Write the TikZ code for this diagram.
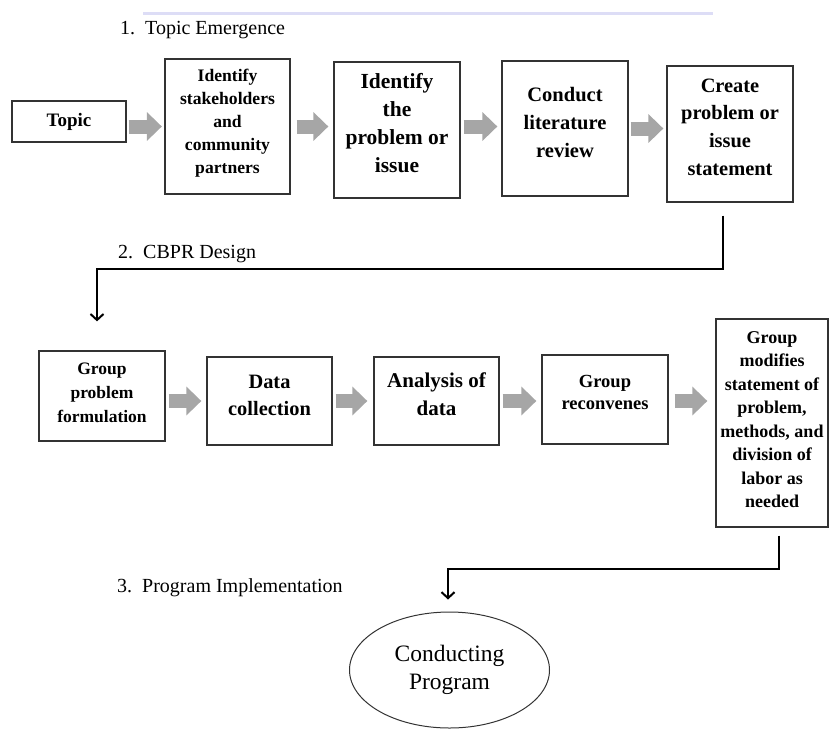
\documentclass[tikz,border=0pt]{standalone}
\usepackage{fontspec}
\setmainfont{Liberation Serif}
\usetikzlibrary{arrows.meta,shapes.geometric}

\definecolor{rulelav}{RGB}{221,221,246}
\definecolor{flowgray}{RGB}{166,166,166}

\tikzset{
  stepbox/.style={draw=black!80, line width=1.3pt, rectangle, inner sep=0pt},
  steptext/.style={align=center, inner sep=0pt},
  flow/.style={draw=flowgray, line width=14pt, -{Triangle[length=15pt,width=28pt]}, shorten <=3pt, shorten >=4pt},
  link/.style={line width=2pt, -{Straight Barb[length=6pt,width=13pt]}},
  phase/.style={anchor=base west, inner sep=0pt, font=\fontsize{20pt}{24pt}\selectfont},
}

\begin{document}
\begin{tikzpicture}[x=1pt, y=-1pt]
\useasboundingbox (0,0) rectangle (829,729);
\draw[rulelav, line width=3pt] (143,13.5) -- (713,13.5);

% 1. topic emergence
\node[phase] (p1) at (120,34) {1.\enspace Topic Emergence};
\node[stepbox, minimum width=114pt, minimum height=41pt] (topic) at (69,121.5) {};
\node[stepbox, minimum width=125pt, minimum height=135pt] (stake) at (227.5,126.5) {};
\node[stepbox, minimum width=126pt, minimum height=136pt] (ident) at (397,130) {};
\node[stepbox, minimum width=126pt, minimum height=135pt] (conduct) at (565,128.5) {};
\node[stepbox, minimum width=126pt, minimum height=136pt] (create) at (730,134) {};

\node[steptext, font=\bfseries\fontsize{19pt}{23pt}\selectfont] (topic-t) at (topic) {Topic};
\node[steptext, font=\bfseries\fontsize{17.6pt}{23pt}\selectfont] (stake-t) at ([yshift=3pt]stake.center) {Identify\\stakeholders\\and\\community\\partners};
\node[steptext, font=\bfseries\fontsize{21.5pt}{28pt}\selectfont] (ident-t) at ([yshift=7pt]ident.center) {Identify\\the\\problem or\\issue};
\node[steptext, font=\bfseries\fontsize{20.5pt}{28pt}\selectfont] (conduct-t) at ([yshift=6.5pt]conduct.center) {Conduct\\literature\\review};
\node[steptext, font=\bfseries\fontsize{20.4pt}{27.7pt}\selectfont] (create-t) at ([yshift=7pt]create.center) {Create\\problem or\\issue\\statement};

\draw[flow, shorten <=2pt, shorten >=2.5pt] (topic.east |- stake) -- (stake.west);
\draw[flow, shorten <=6pt, shorten >=5pt] (stake.east) -- (ident.west |- stake);
\draw[flow] (ident.east |- stake) -- (conduct.west |- stake);
\draw[flow, shorten <=2pt, shorten >=3pt] (conduct.east) -- (create.west |- conduct);

% 2. cbpr design
\node[phase] (p2) at (118,258) {2.\enspace CBPR Design};

\node[stepbox, minimum width=126pt, minimum height=90pt] (gform) at (102,396) {};
\node[stepbox, minimum width=125pt, minimum height=88pt] (datac) at (269.5,401) {};
\node[stepbox, minimum width=125pt, minimum height=88pt] (analysis) at (436.5,401) {};
\node[stepbox, minimum width=126pt, minimum height=89pt] (reconv) at (605,399.5) {};
\node[stepbox, minimum width=112pt, minimum height=208pt] (modifies) at (772,423) {};

\node[steptext, font=\bfseries\fontsize{17.5pt}{24pt}\selectfont] (gform-t) at ([yshift=3.5pt]gform.center) {Group\\problem\\formulation};
\node[steptext, font=\bfseries\fontsize{20.4pt}{27pt}\selectfont] (datac-t) at ([yshift=6pt]datac.center) {Data\\collection};
\node[steptext, font=\bfseries\fontsize{21pt}{28pt}\selectfont] (analysis-t) at ([yshift=7pt]analysis.center) {Analysis of\\data};
\node[steptext, font=\bfseries\fontsize{18.5pt}{22pt}\selectfont] (reconv-t) at ([yshift=7pt]reconv.center) {Group\\reconvenes};
\node[steptext, font=\bfseries\fontsize{18pt}{23.5pt}\selectfont] (modifies-t) at ([yshift=3.5pt]modifies.center) {Group\\modifies\\statement of\\problem,\\methods, and\\division of\\labor as\\needed};

\draw[link] ([xshift=-7pt,yshift=-13pt]create.south) -- ++(0,53) -| ([xshift=-5pt,yshift=29pt]gform.north);

\draw[flow, shorten >=5pt] (gform.east |- datac) -- (datac.west);
\draw[flow, shorten >=6pt] (datac.east) -- (analysis.west);
\draw[flow, shorten >=5pt] (analysis.east) -- (reconv.west |- analysis);
\draw[flow, shorten <=6pt, shorten >=8pt] (reconv.east |- analysis) -- (modifies.west |- analysis);

% 3. program implementation
\node[phase] (p3) at (117,592) {3.\enspace Program Implementation};
\node[draw=black!80, line width=1pt, ellipse, minimum width=200pt, minimum height=116pt, inner sep=0pt, align=center, font=\fontsize{23.5pt}{28pt}\selectfont] (prog) at (449.5,670) {Conducting\\Program};
\draw[link] ([xshift=7pt,yshift=-8pt]modifies.south) -- ++(0,33) -| ([xshift=-1.5pt,yshift=12pt]prog.north);
\end{tikzpicture}
\end{document}
